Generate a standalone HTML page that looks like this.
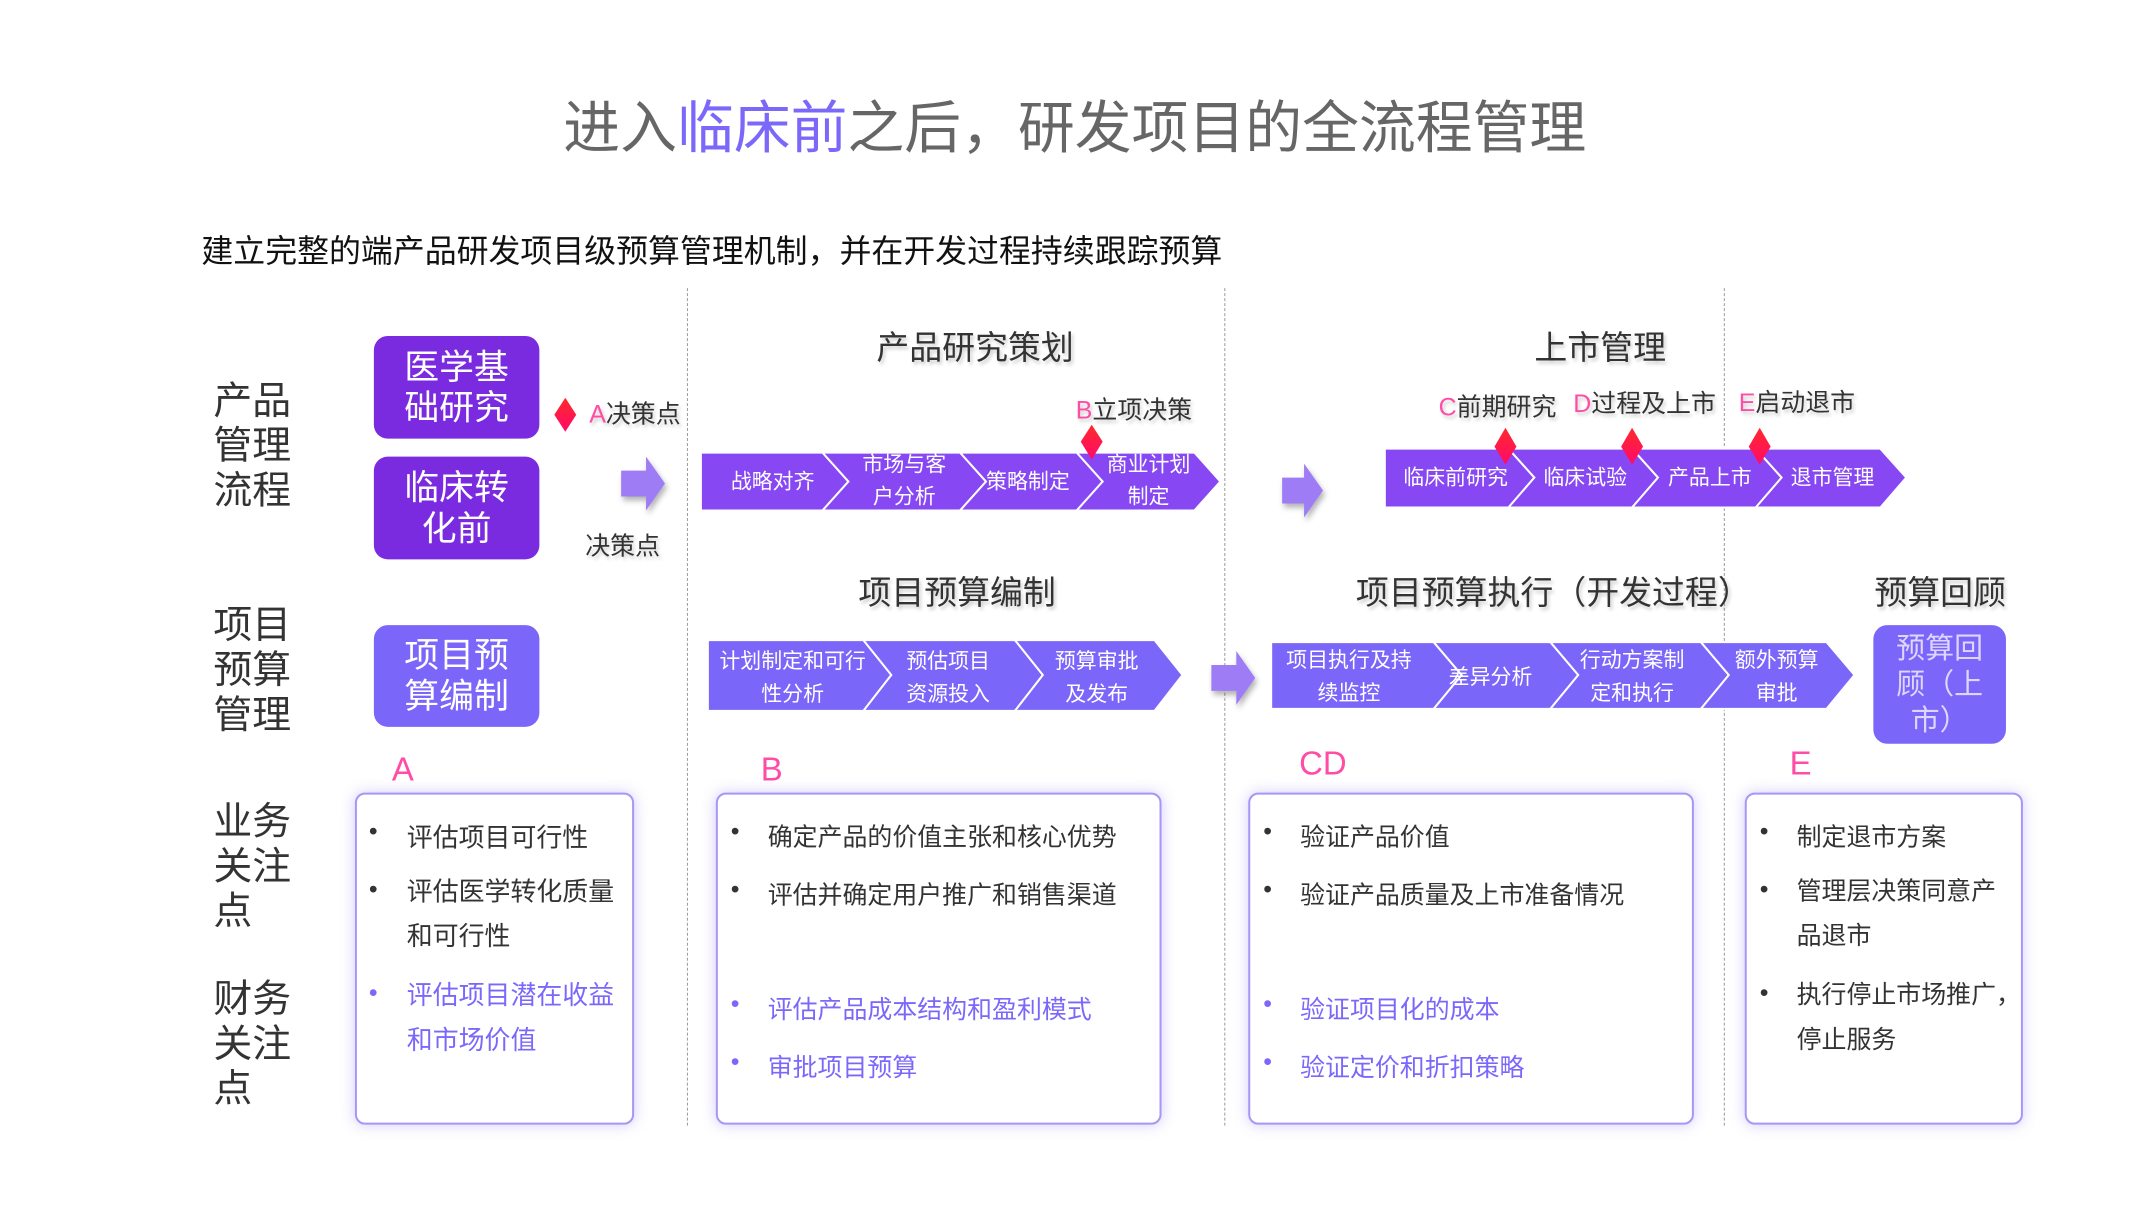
<!DOCTYPE html>
<html><head><meta charset="utf-8">
<style>
*{margin:0;padding:0;box-sizing:border-box}
body{width:2146px;height:1217px;background:#fff;position:relative;overflow:hidden;font-family:"Liberation Sans","Noto Sans CJK SC",sans-serif;color:#333}
#w{position:absolute;left:0;top:0;width:2146px;height:1217px;transform:scale(0.997);transform-origin:0 0}
.a{position:absolute;white-space:nowrap}
.box{position:absolute;border-radius:14px;color:#fff;font-size:35px;line-height:41px;text-align:center;display:flex;align-items:center;justify-content:center}
.lab{position:absolute;font-size:39px;line-height:45px;color:#333;width:80px}
.h{position:absolute;font-size:33px;color:#333;transform:translateX(-50%);text-shadow:2px 3px 4px rgba(0,0,0,.2);white-space:nowrap}
.card{position:absolute;border:2px solid #a896f6;border-radius:10px;box-shadow:0 0 14px rgba(120,90,240,.3);background:#fff}
.t{position:absolute;font-size:25px;color:#333;white-space:nowrap}
.b{color:#7b68fb}
.pk{color:#ff4da6}
.L{position:absolute;font-size:33px;color:#ff4da6}
.vl{position:absolute;top:289px;height:840px;border-left:1px dashed #999}
</style></head><body><div id="w">
<div class="a" style="left:565px;top:83px;font-size:57px;color:#666">进入<span style="color:#7b68fb">临床前</span>之后，研发项目的全流程管理</div>
<div class="a" style="left:202px;top:227px;font-size:32px;color:#111">建立完整的端产品研发项目级预算管理机制，并在开发过程持续跟踪预算</div>

<div class="vl" style="left:689px"></div>
<div class="vl" style="left:1228px"></div>
<div class="vl" style="left:1729px"></div>

<div class="lab" style="left:214px;top:380px">产品<br>管理<br>流程</div>
<div class="lab" style="left:214px;top:605px">项目<br>预算<br>管理</div>
<div class="lab" style="left:214px;top:802px">业务<br>关注<br>点</div>
<div class="lab" style="left:214px;top:980px">财务<br>关注<br>点</div>

<div class="box" style="left:375px;top:337px;width:166px;height:103px;background:#7a2be0">医学基<br>础研究</div>
<div class="box" style="left:375px;top:458px;width:166px;height:103px;background:#7a2be0">临床转<br>化前</div>
<div class="box" style="left:375px;top:627px;width:166px;height:102px;background:#7b66fa">项目预<br>算编制</div>
<div class="box" style="left:1879px;top:627px;width:133px;height:119px;background:#7b66fa;color:#ddd6ff;font-size:29px;line-height:36px">预算回<br>顾（上<br>市）</div>

<svg class="a" style="left:0;top:0" width="2146" height="1217">
<defs><linearGradient id="rd" x1="0" y1="0" x2="0" y2="1"><stop offset="0" stop-color="#ff2a2a"/><stop offset="1" stop-color="#ff0a6a"/></linearGradient>
<filter id="sh"><feDropShadow dx="2" dy="4" stdDeviation="3" flood-opacity=".3"/></filter></defs>
<g fill="#8748f3" stroke="#fff" stroke-width="2">
<polygon points="703,454 825,454 851,483 825,512 703,512"/>
<polygon points="825,454 963,454 989,483 963,512 825,512 851,483"/>
<polygon points="963,454 1080,454 1106,483 1080,512 963,512 989,483"/>
<polygon points="1080,454 1198,454 1224,483 1198,512 1080,512 1106,483"/>
<polygon points="1389,450 1513,450 1539,479 1513,509 1389,509"/>
<polygon points="1513,450 1637,450 1663,479 1637,509 1513,509 1539,479"/>
<polygon points="1637,450 1761,450 1787,479 1761,509 1637,509 1663,479"/>
<polygon points="1761,450 1886,450 1912,479 1886,509 1761,509 1787,479"/>
</g>
<g fill="#7b66fa" stroke="#fff" stroke-width="2">
<polygon points="710,642 866,642 894,677 866,713 710,713"/>
<polygon points="866,642 1018,642 1046,677 1018,713 866,713 894,677"/>
<polygon points="1018,642 1158,642 1186,677 1158,713 1018,713 1046,677"/>
<polygon points="1275,644 1438,644 1466,677 1438,711 1275,711"/>
<polygon points="1438,644 1555,644 1583,677 1555,711 1438,711 1466,677"/>
<polygon points="1555,644 1706,644 1734,677 1706,711 1555,711 1583,677"/>
<polygon points="1706,644 1832,644 1860,677 1832,711 1706,711 1734,677"/>
</g>
<g fill="#9d7cf5" filter="url(#sh)">
<polygon points="623,472 648,472 648,458 667,485 648,512 648,498 623,498"/>
<polygon points="1286,479 1308,479 1308,465 1327,492 1308,519 1308,505 1286,505"/>
<polygon points="1215,667 1240,667 1240,653 1259,680 1240,707 1240,693 1215,693"/>
</g>
<g fill="url(#rd)">
<polygon points="567,399 578,416 567,433 556,416"/>
<polygon points="1095,426 1106,443 1095,461 1084,443"/>
<polygon points="1510,429 1521,448 1510,466 1499,448"/>
<polygon points="1637,429 1648,448 1637,466 1626,448"/>
<polygon points="1765,429 1776,448 1765,466 1754,448"/>
</g>
<g font-family="Liberation Sans,Noto Sans CJK SC,sans-serif" font-size="21" fill="#fff" text-anchor="middle">
<text x="775" y="490">战略对齐</text>
<text x="907" y="473">市场与客</text><text x="907" y="505">户分析</text>
<text x="1031" y="490">策略制定</text>
<text x="1152" y="473">商业计划</text><text x="1152" y="505">制定</text>
<text x="1460" y="486">临床前研究</text>
<text x="1590" y="486">临床试验</text>
<text x="1715" y="486">产品上市</text>
<text x="1838" y="486">退市管理</text>
<text x="795" y="670">计划制定和可行</text><text x="795" y="703">性分析</text>
<text x="951" y="670">预估项目</text><text x="951" y="703">资源投入</text>
<text x="1100" y="670">预算审批</text><text x="1100" y="703">及发布</text>
<text x="1353" y="669">项目执行及持</text><text x="1353" y="702">续监控</text>
<text x="1495" y="686">差异分析</text>
<text x="1637" y="669">行动方案制</text><text x="1637" y="702">定和执行</text>
<text x="1782" y="669">额外预算</text><text x="1782" y="702">审批</text>
</g>
</svg>

<div class="a" style="left:591px;top:396px;font-size:25px;text-shadow:2px 3px 4px rgba(0,0,0,.2)"><span class="pk">A</span>决策点</div>
<div class="a" style="left:587px;top:528px;font-size:25px;text-shadow:2px 3px 4px rgba(0,0,0,.2)">决策点</div>
<div class="a" style="left:1079px;top:392px;font-size:25px;text-shadow:2px 3px 4px rgba(0,0,0,.2)"><span class="pk">B</span>立项决策</div>
<div class="a" style="left:1443px;top:389px;font-size:25px;text-shadow:2px 3px 4px rgba(0,0,0,.2)"><span class="pk">C</span>前期研究</div>
<div class="a" style="left:1578px;top:385px;font-size:25px;text-shadow:2px 3px 4px rgba(0,0,0,.2)"><span class="pk">D</span>过程及上市</div>
<div class="a" style="left:1744px;top:384px;font-size:25px;text-shadow:2px 3px 4px rgba(0,0,0,.2)"><span class="pk">E</span>启动退市</div>

<div class="h" style="left:978px;top:322px">产品研究策划</div>
<div class="h" style="left:1605px;top:322px">上市管理</div>
<div class="h" style="left:960px;top:568px">项目预算编制</div>
<div class="h" style="left:1558px;top:568px">项目预算执行（开发过程）</div>
<div class="h" style="left:1946px;top:568px">预算回顾</div>

<div class="L" style="left:393px;top:753px">A</div>
<div class="L" style="left:763px;top:753px">B</div>
<div class="L" style="left:1303px;top:747px">CD</div>
<div class="L" style="left:1795px;top:747px">E</div>

<div class="card" style="left:356px;top:795px;width:280px;height:333px"></div>
<div class="card" style="left:718px;top:795px;width:447px;height:333px"></div>
<div class="card" style="left:1252px;top:795px;width:447px;height:333px"></div>
<div class="card" style="left:1750px;top:795px;width:279px;height:333px"></div>

<div class="t" style="left:370px;top:820px">•</div>
<div class="t" style="left:408px;top:820px;font-size:26px">评估项目可行性</div>
<div class="t" style="left:370px;top:878px">•</div>
<div class="t" style="left:408px;top:872px;line-height:45px;font-size:26px">评估医学转化质量<br>和可行性</div>
<div class="t b" style="left:370px;top:982px">•</div>
<div class="t b" style="left:408px;top:976px;line-height:45px;font-size:26px">评估项目潜在收益<br>和市场价值</div>

<div class="t" style="left:733px;top:820px">•</div><div class="t" style="left:770px;top:820px">确定产品的价值主张和核心优势</div>
<div class="t" style="left:733px;top:878px">•</div><div class="t" style="left:770px;top:878px">评估并确定用户推广和销售渠道</div>
<div class="t b" style="left:733px;top:993px">•</div><div class="t b" style="left:770px;top:993px">评估产品成本结构和盈利模式</div>
<div class="t b" style="left:733px;top:1051px">•</div><div class="t b" style="left:770px;top:1051px">审批项目预算</div>

<div class="t" style="left:1267px;top:820px">•</div><div class="t" style="left:1304px;top:820px">验证产品价值</div>
<div class="t" style="left:1267px;top:878px">•</div><div class="t" style="left:1304px;top:878px">验证产品质量及上市准备情况</div>
<div class="t b" style="left:1267px;top:993px">•</div><div class="t b" style="left:1304px;top:993px">验证项目化的成本</div>
<div class="t b" style="left:1267px;top:1051px">•</div><div class="t b" style="left:1304px;top:1051px">验证定价和折扣策略</div>

<div class="t" style="left:1765px;top:820px">•</div><div class="t" style="left:1802px;top:820px">制定退市方案</div>
<div class="t" style="left:1765px;top:878px">•</div><div class="t" style="left:1802px;top:872px;line-height:45px">管理层决策同意产<br>品退市</div>
<div class="t" style="left:1765px;top:982px">•</div><div class="t" style="left:1802px;top:976px;line-height:45px">执行停止市场推广，<br>停止服务</div>
</div></body></html>
